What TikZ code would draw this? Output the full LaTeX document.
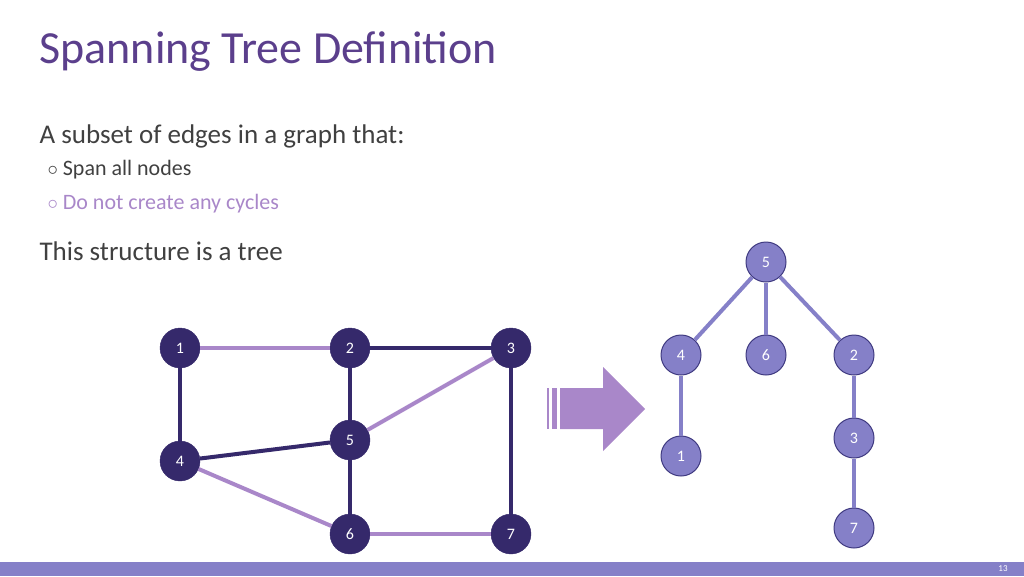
\documentclass[tikz,border=0pt]{standalone}
\usepackage{fontspec}
\setmainfont{Carlito}
\definecolor{ttl}{HTML}{5B3F8C}
\definecolor{dk}{HTML}{35296B}
\definecolor{lt}{HTML}{A987C9}
\definecolor{tr}{HTML}{8580C8}
\definecolor{trb}{HTML}{3F3A80}
\definecolor{txt}{HTML}{404040}
\begin{document}
\begin{tikzpicture}[x=1pt,y=-1pt,
 gn/.style={circle,fill=dk,draw=dk,minimum size=40pt,inner sep=0pt,text=white,font=\fontsize{16}{16}\selectfont},
 tn/.style={circle,fill=tr,draw=trb,line width=1pt,minimum size=40pt,inner sep=0pt,text=white,font=\fontsize{16}{16}\selectfont},
 de/.style={draw=dk,line width=4pt},
 le/.style={draw=lt,line width=4pt},
 te/.style={draw=tr,line width=4pt}]
\useasboundingbox (0,0) rectangle (1024,576);
\fill[tr] (0,562) rectangle (1024,576);
\node[text=white,font=\fontsize{9}{9}\selectfont] (pg) at (1003,569) {13};
\node[anchor=west,text=ttl,font=\fontsize{46}{46}\selectfont] (title) at (36,52) {Spanning Tree Definition};
\node[anchor=west,text=txt,font=\fontsize{27}{27}\selectfont] (t1) at (36,136) {A subset of edges in a graph that:};
\node[anchor=west,text=txt,font=\fontsize{22}{22}\selectfont] (t2) at (44,170) {$\circ$ Span all nodes};
\node[anchor=west,text=lt,font=\fontsize{22}{22}\selectfont] (t3) at (44,204) {$\circ$ Do not create any cycles};
\node[anchor=west,text=txt,font=\fontsize{27}{27}\selectfont] (t4) at (36,251) {This structure is a tree};
\node[gn] (g1) at (180,348) {1};
\node[gn] (g2) at (350,348) {2};
\node[gn] (g3) at (511,348) {3};
\node[gn] (g4) at (180,461) {4};
\node[gn] (g5) at (350,440) {5};
\node[gn] (g6) at (350,534) {6};
\node[gn] (g7) at (511,534) {7};
\begin{scope}[on background layer/.style={}]
\end{scope}
\path[le] (g1) -- (g2);
\path[de] (g2) -- (g3);
\path[de] (g1) -- (g4);
\path[de] (g2) -- (g5);
\path[le] (g3) -- (g5);
\path[de] (g3) -- (g7);
\path[de] (g4) -- (g5);
\path[le] (g4) -- (g6);
\path[de] (g5) -- (g6);
\path[le] (g6) -- (g7);
\fill[lt] (547,388) rectangle (549,429);
\fill[lt] (552,388) rectangle (557,429);
\fill[lt] (560,388) -- (603,388) -- (603,367) -- (645,409) -- (603,451) -- (603,429) -- (560,429) -- cycle;
\node[tn] (r5) at (766,262) {5};
\node[tn] (r4) at (681,355) {4};
\node[tn] (r6) at (766,355) {6};
\node[tn] (r2) at (854,355) {2};
\node[tn] (r1) at (681,456) {1};
\node[tn] (r3) at (854,438) {3};
\node[tn] (r7) at (854,528) {7};
\path[te] (r5) -- (r4);
\path[te] (r5) -- (r6);
\path[te] (r5) -- (r2);
\path[te] (r4) -- (r1);
\path[te] (r2) -- (r3);
\path[te] (r3) -- (r7);
\end{tikzpicture}
\end{document}
